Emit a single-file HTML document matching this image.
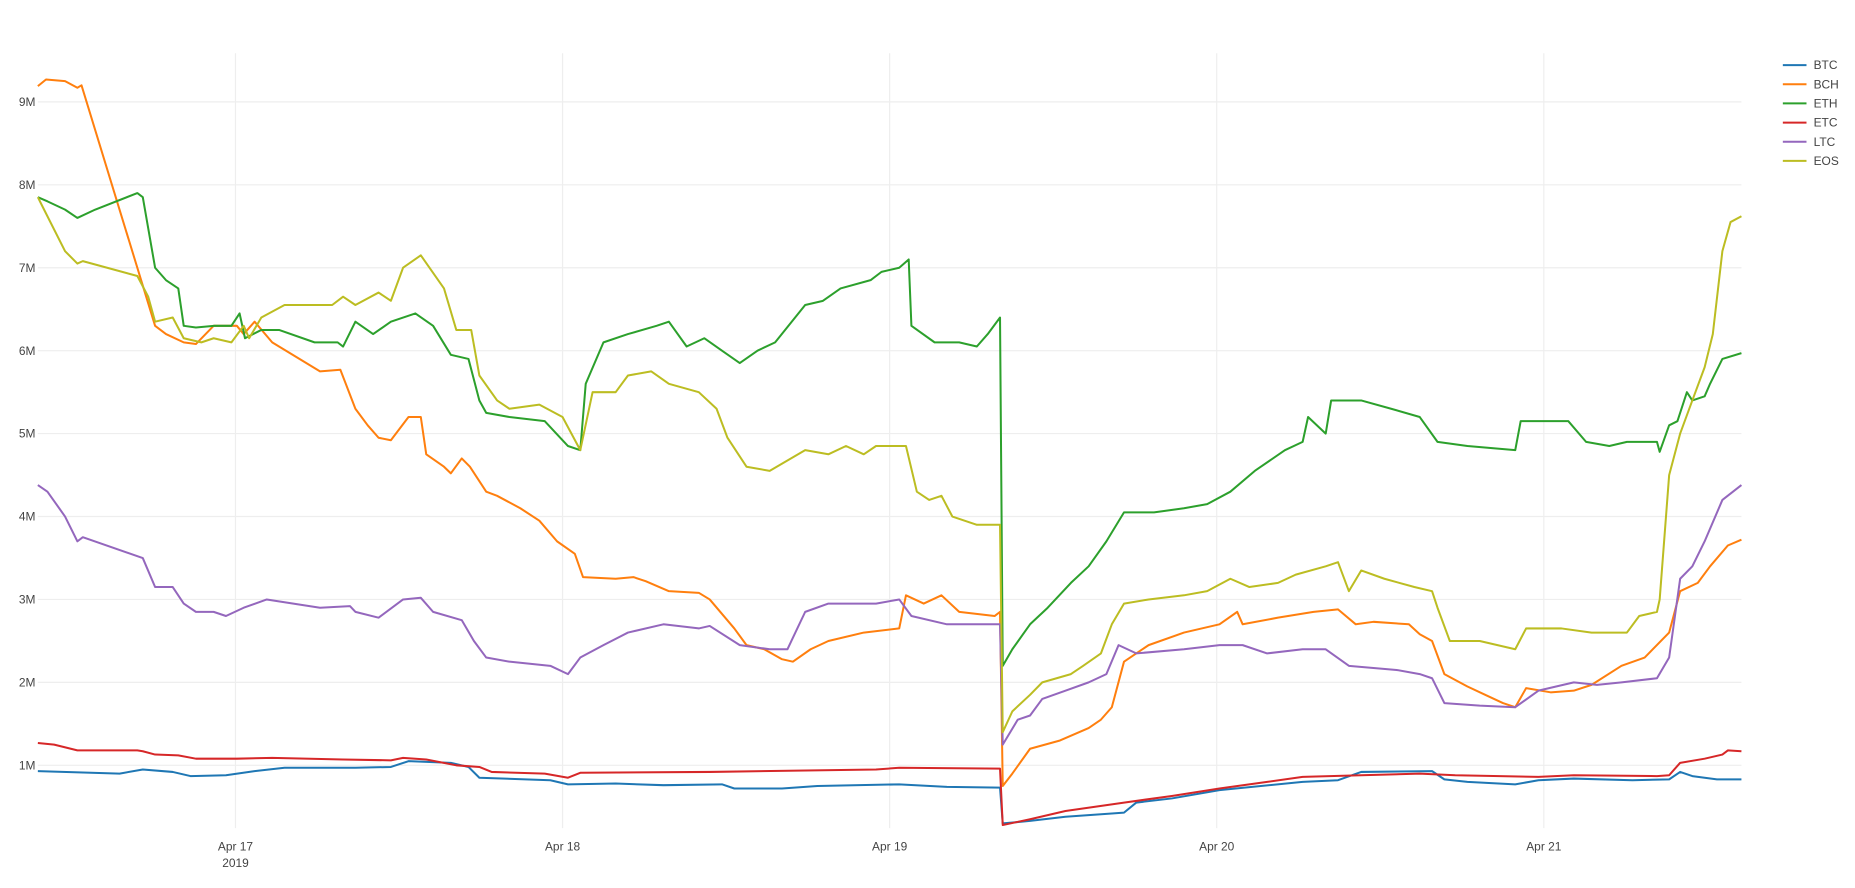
<!DOCTYPE html>
<html><head><meta charset="utf-8">
<style>
html,body{margin:0;padding:0;background:#fff;}
svg{display:block;font-family:"Liberation Sans","Open Sans",sans-serif;}
</style></head>
<body>
<svg id="chart" width="1855" height="888" viewBox="0 0 1568 750.6" xmlns="http://www.w3.org/2000/svg">
<g id="grid"></g>
<g id="yaxis"></g>
<g id="xaxis"></g>
<g id="series"></g>
<g id="legend"></g>
</svg>
<script>
// time in hours since 2019-04-17 00:00, values in millions
const seriesNames = ["BTC","BCH","ETH","ETC","LTC","EOS"];
const seriesColors = ["#1f77b4","#ff7f0e","#2ca02c","#d62728","#9467bd","#bcbd22"];
const yTickValues = [1,2,3,4,5,6,7,8,9];
const yTickLabels = ["1M","2M","3M","4M","5M","6M","7M","8M","9M"];
const xTickHours = [0,24,48,72,96];
const xTickLabels = ["Apr 17","Apr 18","Apr 19","Apr 20","Apr 21"];

const btcT = [-14.5,-8.5,-6.8,-4.6,-3.3,-0.7,1.4,3.6,8.8,11.4,12.7,15.8,17.1,17.9,23.1,24.4,27.9,31.4,35.7,36.6,40.1,42.7,48.7,52.2,56.1,56.3,58.3,60.9,64.3,65.2,66.1,68.7,72.2,78.3,80.9,82.6,87.8,88.7,90.4,93.9,95.6,98.2,102.5,105.2,106.0,106.9,108.7,110.5];
const btcV = [0.93,0.90,0.95,0.92,0.87,0.88,0.93,0.97,0.97,0.98,1.05,1.03,0.98,0.85,0.82,0.77,0.78,0.76,0.77,0.72,0.72,0.75,0.77,0.74,0.73,0.30,0.33,0.38,0.42,0.43,0.55,0.60,0.70,0.80,0.82,0.92,0.93,0.83,0.80,0.77,0.82,0.84,0.82,0.83,0.92,0.87,0.83,0.83];

const etcT = [-14.5,-13.3,-11.6,-7.2,-6.8,-5.9,-4.2,-2.9,0.1,2.7,7.9,11.4,12.3,14.0,16.2,17.9,18.8,22.7,24.4,25.3,34.8,47.0,48.7,56.1,56.3,58.3,60.9,65.2,68.7,72.2,75.7,78.3,82.6,86.9,89.5,95.6,98.2,104.3,105.2,106.0,107.8,109.1,109.5,110.5];
const etcV = [1.27,1.25,1.18,1.18,1.17,1.13,1.12,1.08,1.08,1.09,1.07,1.06,1.09,1.07,1.00,0.98,0.92,0.90,0.85,0.91,0.92,0.95,0.97,0.96,0.28,0.35,0.45,0.55,0.63,0.72,0.80,0.86,0.88,0.90,0.88,0.86,0.88,0.87,0.88,1.03,1.08,1.13,1.18,1.17];

const bchT = [-14.5,-13.9,-12.5,-11.6,-11.3,-5.9,-5.1,-3.8,-2.9,-1.6,0.1,0.6,1.4,2.7,6.2,7.7,8.8,9.7,10.5,11.4,12.7,13.6,14.0,15.3,15.8,16.6,17.2,18.4,19.2,20.9,22.3,23.6,24.9,25.5,27.9,29.2,30.1,31.8,34.0,34.8,36.6,37.5,38.8,40.1,40.9,42.2,43.5,46.1,48.7,49.2,50.5,51.8,53.1,55.7,56.1,56.3,57.0,58.3,60.5,62.6,63.5,64.3,65.2,67.0,69.6,72.2,73.5,73.9,76.5,79.1,80.9,82.2,83.5,86.1,86.9,87.8,88.7,90.4,91.7,93.0,93.9,94.7,96.5,98.2,99.5,101.7,103.4,105.2,106.0,107.3,108.2,109.5,110.5];
const bchV = [9.19,9.27,9.25,9.17,9.20,6.30,6.20,6.10,6.08,6.30,6.30,6.20,6.35,6.10,5.75,5.77,5.30,5.10,4.95,4.92,5.20,5.20,4.75,4.60,4.52,4.70,4.60,4.30,4.25,4.10,3.95,3.70,3.55,3.27,3.25,3.27,3.22,3.10,3.08,3.00,2.65,2.45,2.40,2.28,2.25,2.40,2.50,2.60,2.65,3.05,2.95,3.05,2.85,2.80,2.85,0.75,0.90,1.20,1.30,1.45,1.55,1.70,2.25,2.45,2.60,2.70,2.85,2.70,2.78,2.85,2.88,2.70,2.73,2.70,2.58,2.50,2.10,1.95,1.85,1.75,1.70,1.93,1.88,1.90,1.97,2.20,2.30,2.60,3.10,3.20,3.40,3.65,3.72];

const ethT = [-14.5,-13.8,-12.5,-11.6,-10.3,-7.2,-6.8,-5.9,-5.1,-4.2,-3.8,-2.9,-1.6,-0.3,0.3,0.7,1.9,3.2,5.8,7.5,7.9,8.8,10.1,11.4,13.2,14.5,15.8,17.1,17.9,18.4,20.1,22.7,24.4,25.3,25.7,27.0,28.8,30.9,31.8,33.1,34.4,35.7,37.0,38.3,39.6,41.8,43.1,44.4,46.6,47.4,48.7,49.4,49.6,51.3,53.1,54.4,55.2,56.1,56.3,57.0,58.3,59.6,61.3,62.6,63.9,65.2,67.4,69.6,71.3,73.0,74.8,77.0,78.3,78.7,80.0,80.4,82.6,84.8,86.9,88.2,90.4,93.9,94.3,97.8,99.1,100.8,102.1,104.3,104.5,105.2,105.8,106.5,106.9,107.8,108.2,109.1,110.5];
const ethV = [7.85,7.80,7.70,7.60,7.70,7.90,7.85,7.00,6.85,6.75,6.30,6.28,6.30,6.30,6.45,6.15,6.25,6.25,6.10,6.10,6.05,6.35,6.20,6.35,6.45,6.30,5.95,5.90,5.40,5.25,5.20,5.15,4.85,4.80,5.60,6.10,6.20,6.30,6.35,6.05,6.15,6.00,5.85,6.00,6.10,6.55,6.60,6.75,6.85,6.95,7.00,7.10,6.30,6.10,6.10,6.05,6.20,6.40,2.20,2.40,2.70,2.90,3.20,3.40,3.70,4.05,4.05,4.10,4.15,4.30,4.55,4.80,4.90,5.20,5.00,5.40,5.40,5.30,5.20,4.90,4.85,4.80,5.15,5.15,4.90,4.85,4.90,4.90,4.78,5.10,5.15,5.50,5.40,5.45,5.60,5.90,5.97];

const ltcT = [-14.5,-13.8,-12.5,-11.6,-11.2,-6.8,-5.9,-4.6,-3.8,-2.9,-1.6,-0.7,0.6,2.3,6.2,8.4,8.8,10.5,12.3,13.6,14.5,16.6,17.5,18.4,20.1,23.1,24.4,25.3,27.0,28.8,31.4,34.0,34.8,37.0,39.2,40.5,41.8,43.5,47.0,48.7,49.6,52.2,56.1,56.3,57.4,58.3,59.2,60.9,62.6,63.9,64.8,66.1,69.6,72.2,73.9,75.7,78.3,80.0,81.7,85.2,86.9,87.8,88.7,91.3,93.9,95.6,98.2,99.9,101.7,104.3,105.2,106.0,106.9,107.8,109.1,110.5];
const ltcV = [4.38,4.30,4.00,3.70,3.75,3.50,3.15,3.15,2.95,2.85,2.85,2.80,2.90,3.00,2.90,2.92,2.85,2.78,3.00,3.02,2.85,2.75,2.50,2.30,2.25,2.20,2.10,2.30,2.45,2.60,2.70,2.65,2.68,2.45,2.40,2.40,2.85,2.95,2.95,3.00,2.80,2.70,2.70,1.25,1.55,1.60,1.80,1.90,2.00,2.10,2.45,2.35,2.40,2.45,2.45,2.35,2.40,2.40,2.20,2.15,2.10,2.05,1.75,1.72,1.70,1.90,2.00,1.97,2.00,2.05,2.30,3.25,3.40,3.70,4.20,4.38];

const eosT = [-14.5,-14.2,-12.5,-11.6,-11.2,-7.2,-6.4,-5.9,-4.6,-3.8,-2.5,-1.6,-0.3,0.6,1.0,1.9,3.6,7.1,7.9,8.8,10.5,11.4,12.3,13.6,15.3,16.2,17.3,17.9,19.2,20.1,22.3,24.0,25.3,26.2,27.9,28.8,30.5,31.8,34.0,35.3,36.1,37.5,39.2,41.8,43.5,44.8,46.1,47.0,49.2,50.0,50.9,51.8,52.6,54.4,56.1,56.3,57.0,58.3,59.2,61.3,62.2,63.5,64.3,65.2,67.0,69.6,71.3,73.0,74.4,76.5,77.8,80.0,80.9,81.7,82.6,84.3,86.5,87.8,88.2,89.1,91.3,93.9,94.7,97.3,99.5,102.1,103.0,104.3,104.5,105.2,106.0,106.9,107.8,108.4,109.1,109.7,110.5];
const eosV = [7.85,7.75,7.20,7.05,7.08,6.90,6.65,6.35,6.40,6.15,6.10,6.15,6.10,6.30,6.15,6.40,6.55,6.55,6.65,6.55,6.70,6.60,7.00,7.15,6.75,6.25,6.25,5.70,5.40,5.30,5.35,5.20,4.80,5.50,5.50,5.70,5.75,5.60,5.50,5.30,4.95,4.60,4.55,4.80,4.75,4.85,4.75,4.85,4.85,4.30,4.20,4.25,4.00,3.90,3.90,1.40,1.65,1.85,2.00,2.10,2.20,2.35,2.70,2.95,3.00,3.05,3.10,3.25,3.15,3.20,3.30,3.40,3.45,3.10,3.35,3.25,3.15,3.10,2.90,2.50,2.50,2.40,2.65,2.65,2.60,2.60,2.80,2.85,3.00,4.50,5.00,5.40,5.80,6.20,7.20,7.55,7.62];

const allT = [btcT,bchT,ethT,etcT,ltcT,eosT];
const allV = [btcV,bchV,ethV,etcV,ltcV,eosV];

const NS = "http://www.w3.org/2000/svg";
const plotL = 32, plotR = 1472, plotT = 45, plotB = 700;
const tMin = -14.5, tMax = 110.5;
function xScale(h){ return plotL + (h - tMin) / (tMax - tMin) * (plotR - plotL); }
function yScale(v){ return 717 - v * 70.1; }
function mk(tag, attrs, parent){
  const e = document.createElementNS(NS, tag);
  for (const k in attrs) e.setAttribute(k, attrs[k]);
  parent.appendChild(e);
  return e;
}
const grid = document.getElementById('grid');
const yaxis = document.getElementById('yaxis');
const xaxis = document.getElementById('xaxis');
yTickValues.forEach((v, i) => {
  const y = yScale(v);
  const gl = mk('line', {x1: plotL, x2: plotR, y1: y, y2: y, stroke: '#eeeeee', 'stroke-width': 1}, grid);
  
  
  const t = mk('text', {x: 30, y: y + 3.5, 'text-anchor': 'end', 'font-size': 10.1, fill: '#444'}, yaxis);
  t.textContent = yTickLabels[i];
  
  
});
xTickHours.forEach((h, i) => {
  const x = xScale(h);
  const gl = mk('line', {x1: x, x2: x, y1: plotT, y2: plotB, stroke: '#eeeeee', 'stroke-width': 1}, grid);
  
  
  const t = mk('text', {x: x, y: 719, 'text-anchor': 'middle', 'font-size': 10.1, fill: '#444'}, xaxis);
  t.textContent = xTickLabels[i];
  
  
});
const yr = mk('text', {x: xScale(0), y: 733, 'text-anchor': 'middle', 'font-size': 10.1, fill: '#444'}, xaxis);
yr.textContent = '2019';



const series = document.getElementById('series');
const legend = document.getElementById('legend');
seriesNames.forEach((name, i) => {
  const T = allT[i], V = allV[i];
  let d = '';
  for (let k = 0; k < T.length; k++) d += (k ? 'L' : 'M') + xScale(T[k]).toFixed(1) + ',' + yScale(V[k]).toFixed(1);
  const p = mk('path', {d: d, fill: 'none', stroke: seriesColors[i], 'stroke-width': 1.7, 'stroke-linejoin': 'round'}, series);
  
  
  const ly = 55 + i * 16.2;
  const g = mk('g', {}, legend);
  
  
  mk('line', {x1: 1507, x2: 1527, y1: ly, y2: ly, stroke: seriesColors[i], 'stroke-width': 1.7}, g);
  const t = mk('text', {x: 1533, y: ly + 3.5, 'font-size': 10.1, fill: '#444'}, g);
  t.textContent = name;
});
</script>
</body></html>
